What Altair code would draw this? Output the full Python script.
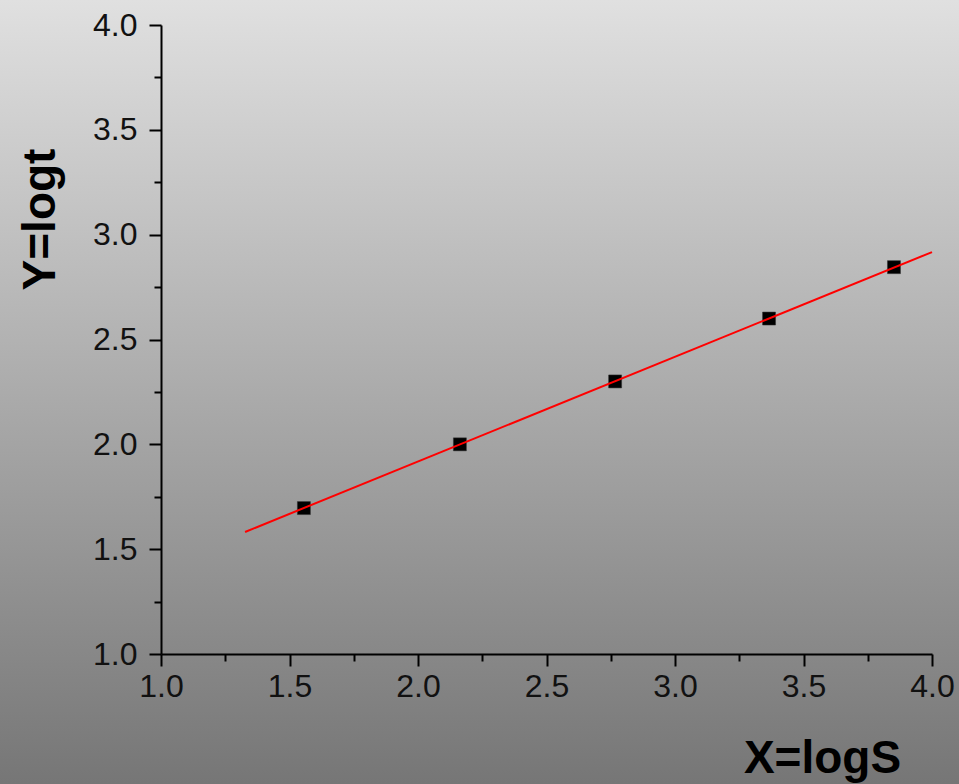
import altair as alt
import pandas as pd

# data
x_vals = [1.556, 2.163, 2.767, 3.366, 3.852]
y_vals = [1.696, 2.000, 2.300, 2.600, 2.845]
fit_x = [1.327, 4.0]
fit_y = [1.582, 2.917]
tick_vals = [1.0, 1.25, 1.5, 1.75, 2.0, 2.25, 2.5, 2.75, 3.0, 3.25, 3.5, 3.75, 4.0]

pts = pd.DataFrame({"x": x_vals, "y": y_vals})
fit = pd.DataFrame({"x": fit_x, "y": fit_y})
bgdf = pd.DataFrame({"a": [0]})

W, H = 771, 629
PL, PT, PR, PB = 161, 25, 27, 130

major_test = "abs(datum.value*2 - round(datum.value*2)) < 1e-6"
tick_size = {"condition": {"test": major_test, "value": 12}, "value": 7}
label_expr = "abs(datum.value*2 - round(datum.value*2)) < 1e-6 ? format(datum.value, '.1f') : ''"

common = dict(
    values=tick_vals,
    labelExpr=label_expr,
    tickSize=tick_size,
    tickColor="black",
    tickWidth=2,
    domainColor="black",
    domainWidth=2,
    labelFont="Liberation Sans",
    labelFontSize=32,
    labelColor="#111111",
    titleFont="Liberation Sans",
    titleFontSize=46,
    titleFontWeight="bold",
    titleColor="black",
    grid=False,
    zindex=2,
    labelFlush=False,
    labelOverlap=False,
)

x_axis = alt.Axis(title="X=logS", labelPadding=5, titleX=661, titleY=104,
                  titleAlign="center", titleBaseline="middle", **common)
y_axis = alt.Axis(title="Y=logt", labelPadding=12, titleX=-121, titleY=194,
                  titleAlign="center", titleBaseline="middle", titleAngle=270, **common)

xs = alt.Scale(domain=[1, 4], nice=False, zero=False)
ys = alt.Scale(domain=[1, 4], nice=False, zero=False)

bg = alt.Chart(bgdf).mark_rect(
    color=alt.LinearGradient(
        gradient="linear", x1=0, y1=0, x2=0, y2=1,
        stops=[alt.GradientStop(color="#e0e0e0", offset=0),
               alt.GradientStop(color="#767676", offset=1)],
    )
).encode(
    x=alt.value(-PL), x2=alt.value(W + PR),
    y=alt.value(-PT), y2=alt.value(H + PB),
)

points = alt.Chart(pts).mark_square(size=169, color="black", opacity=1,
                                      stroke="#333333", strokeWidth=0.5).encode(
    x=alt.X("x:Q", scale=xs, axis=x_axis),
    y=alt.Y("y:Q", scale=ys, axis=y_axis),
)

line = alt.Chart(fit).mark_line(color="#ff0000", strokeWidth=2).encode(
    x=alt.X("x:Q", scale=xs, axis=x_axis),
    y=alt.Y("y:Q", scale=ys, axis=y_axis),
)

chart = alt.layer(bg, points, line).properties(
    width=W, height=H,
    padding={"left": PL, "top": PT, "right": PR, "bottom": PB},
    autosize=alt.AutoSizeParams(type="none"),
    background="#aaaaaa",
).configure_view(stroke=None)

chart.save("out.html", embed_options={"renderer": "svg", "actions": False})
